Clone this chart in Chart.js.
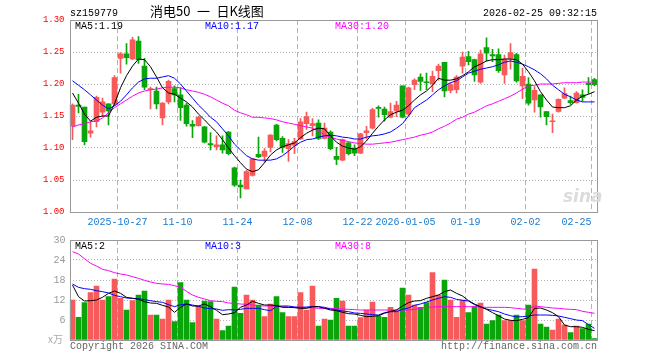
<!DOCTYPE html>
<html><head><meta charset="utf-8">
<script src="https://cdn.jsdelivr.net/npm/chart.js@4"></script>
<style>
html,body{margin:0;padding:0;background:#fff;}
#wrap{position:relative;width:660px;height:360px;overflow:hidden;font-family:"Liberation Mono",monospace;font-size:10px;}
.t{position:absolute;white-space:pre;line-height:12px;}
canvas{position:absolute;left:0;}
</style></head><body>
<div id="wrap">
<canvas id="pc" width="660" height="232" style="top:0"></canvas>
<canvas id="vc" width="660" height="130" style="top:230px"></canvas>
<div class="t" style="left:70px;top:8px;color:#000">sz159779</div>
<div class="t" id="title" style="left:150px;top:3px;color:#000;font-family:'Noto Sans CJK SC',sans-serif;font-size:13px;line-height:16px">消电50&#8194;一&#8194;日K线图</div>
<div class="t" style="right:63px;top:8px;color:#000">2026-02-25 09:32:15</div>
<div class="t" style="left:75px;top:21px;color:#000">MA5:1.19</div>
<div class="t" style="left:205px;top:21px;color:#0000ff">MA10:1.17</div>
<div class="t" style="left:335px;top:21px;color:#ff00ff">MA30:1.20</div>
<div class="t" style="left:75px;top:241px;color:#000">MA5:2</div>
<div class="t" style="left:205px;top:241px;color:#0000ff">MA10:3</div>
<div class="t" style="left:335px;top:241px;color:#ff00ff">MA30:8</div>
<div class="t" style="left:48px;top:333px;color:#aaa;font-family:'Noto Sans CJK SC',sans-serif;font-size:10px">x万</div>
<div class="t" style="left:70px;top:341px;color:#666">Copyright 2026 SINA.COM</div>
<div class="t" style="right:63px;top:341px;color:#666">http://finance.sina.com.cn</div>
<div class="t" style="left:563px;top:186px;color:#dcdcdc;font-family:'DejaVu Sans',sans-serif;font-size:17px;font-weight:bold;font-style:italic;line-height:20px">sina</div>
</div>
<script>
// ---------- data ----------
const dateLabels = ['2025-10-27','11-10','11-24','12-08','12-22','2026-01-05','01-19','02-02','02-25'];
const dateIdx = [8,18,28,38,48,56,66,76,87];
const priceTicks = [1.00,1.05,1.10,1.15,1.20,1.25,1.30];
const priceTickLabels = ['1.00','1.05','1.10','1.15','1.20','1.25','1.30'];
const volTicks = [0,6,12,18,24,30];
const volTickLabels = ['','6','12','18','24','30'];

const open = [1.134,1.167,1.164,1.123,1.141,1.156,1.169,1.169,1.240,1.247,
 1.239,1.267,1.228,1.191,1.189,1.147,1.172,1.193,1.183,1.167,
 1.137,1.135,1.133,1.107,1.102,1.105,1.125,1.069,1.042,1.036,
 1.057,1.090,1.087,1.101,1.136,1.115,1.099,1.104,1.114,1.138,
 1.135,1.139,1.115,1.125,1.087,1.081,1.108,1.099,1.092,1.124,
 1.131,1.163,1.161,1.148,1.158,1.197,1.153,1.199,1.211,1.203,
 1.200,1.221,1.234,1.190,1.191,1.228,1.243,1.238,1.203,1.257,
 1.246,1.246,1.214,1.240,1.246,1.197,1.200,1.175,1.183,1.157,
 1.141,1.157,1.178,1.174,1.171,1.183,1.201,1.207];
const close = [1.167,1.165,1.110,1.127,1.179,1.172,1.158,1.210,1.247,1.241,
 1.269,1.238,1.195,1.193,1.169,1.170,1.204,1.183,1.163,1.138,
 1.134,1.148,1.109,1.105,1.105,1.097,1.091,1.042,1.039,1.063,
 1.083,1.086,1.095,1.120,1.113,1.101,1.107,1.110,1.141,1.149,
 1.138,1.115,1.131,1.099,1.082,1.113,1.091,1.092,1.122,1.127,
 1.160,1.162,1.152,1.157,1.167,1.148,1.194,1.206,1.204,1.202,
 1.212,1.228,1.189,1.199,1.211,1.242,1.235,1.214,1.247,1.248,
 1.244,1.221,1.239,1.249,1.205,1.212,1.170,1.190,1.164,1.149,
 1.142,1.176,1.185,1.171,1.186,1.179,1.199,1.199];
const high = [1.169,1.184,1.164,1.141,1.181,1.178,1.169,1.213,1.249,1.263,
 1.273,1.274,1.240,1.195,1.195,1.171,1.206,1.197,1.194,1.170,
 1.143,1.150,1.134,1.124,1.119,1.119,1.126,1.070,1.050,1.065,
 1.084,1.117,1.099,1.121,1.137,1.118,1.113,1.115,1.146,1.156,
 1.146,1.144,1.139,1.127,1.101,1.114,1.109,1.105,1.123,1.134,
 1.162,1.166,1.164,1.170,1.173,1.197,1.195,1.208,1.216,1.217,
 1.220,1.231,1.234,1.202,1.213,1.250,1.251,1.239,1.253,1.272,
 1.254,1.255,1.245,1.263,1.248,1.225,1.210,1.196,1.183,1.157,
 1.153,1.177,1.194,1.181,1.188,1.191,1.210,1.209];
const low = [1.113,1.155,1.105,1.117,1.133,1.149,1.136,1.166,1.217,1.231,
 1.238,1.232,1.191,1.161,1.161,1.136,1.169,1.172,1.143,1.134,
 1.116,1.134,1.108,1.097,1.097,1.092,1.089,1.040,1.022,1.036,
 1.056,1.085,1.078,1.094,1.111,1.093,1.079,1.091,1.113,1.129,
 1.119,1.113,1.114,1.097,1.074,1.080,1.089,1.088,1.091,1.114,
 1.130,1.148,1.142,1.147,1.149,1.147,1.150,1.191,1.190,1.191,
 1.188,1.206,1.180,1.186,1.186,1.217,1.230,1.204,1.201,1.236,
 1.235,1.218,1.201,1.223,1.203,1.177,1.167,1.156,1.148,1.136,
 1.124,1.156,1.177,1.168,1.170,1.173,1.185,1.197];
const ma5 = [1.186,1.170,1.153,1.142,1.148,1.150,1.150,1.169,1.194,1.213,
 1.228,1.239,1.238,1.227,1.211,1.194,1.186,1.184,1.178,1.172,
 1.164,1.153,1.144,1.134,1.125,1.113,1.100,1.088,1.077,1.067,
 1.063,1.066,1.077,1.089,1.097,1.102,1.105,1.108,1.116,1.123,
 1.128,1.131,1.130,1.119,1.109,1.103,1.100,1.098,1.102,1.111,
 1.123,1.134,1.144,1.152,1.156,1.159,1.166,1.175,1.183,1.189,
 1.198,1.209,1.206,1.206,1.208,1.213,1.219,1.227,1.231,1.236,
 1.238,1.238,1.239,1.239,1.238,1.231,1.219,1.205,1.188,1.175,
 1.164,1.163,1.163,1.166,1.175,1.181,1.184,1.188];
const ma10 = [1.205,1.198,1.191,1.183,1.175,1.167,1.161,1.166,1.173,1.183,
 1.194,1.203,1.208,1.209,1.209,1.211,1.213,1.209,1.200,1.189,
 1.178,1.167,1.158,1.148,1.141,1.130,1.119,1.106,1.097,1.088,
 1.083,1.081,1.081,1.081,1.083,1.088,1.095,1.103,1.109,1.113,
 1.114,1.117,1.119,1.120,1.119,1.117,1.116,1.114,1.114,1.117,
 1.119,1.120,1.122,1.125,1.131,1.138,1.150,1.163,1.169,1.175,
 1.183,1.191,1.197,1.202,1.205,1.211,1.217,1.220,1.223,1.225,
 1.227,1.230,1.234,1.236,1.234,1.231,1.227,1.222,1.216,1.208,
 1.198,1.191,1.184,1.180,1.175,1.172,1.172,1.172];
const ma30 = [1.133,1.136,1.138,1.141,1.142,1.147,1.155,1.163,1.169,1.175,
 1.181,1.186,1.189,1.191,1.192,1.194,1.195,1.195,1.194,1.191,
 1.189,1.187,1.184,1.180,1.175,1.170,1.166,1.159,1.155,1.152,
 1.148,1.148,1.147,1.146,1.144,1.141,1.139,1.137,1.135,1.133,
 1.131,1.127,1.120,1.117,1.114,1.112,1.110,1.108,1.107,1.106,
 1.106,1.107,1.108,1.109,1.111,1.113,1.115,1.117,1.120,1.122,
 1.125,1.130,1.134,1.139,1.145,1.148,1.153,1.156,1.161,1.166,
 1.169,1.173,1.177,1.181,1.186,1.192,1.197,1.198,1.200,1.200,
 1.200,1.201,1.202,1.202,1.202,1.203,1.203,1.203];
const volume = [12.0,6.8,11.2,14.2,16.2,12.0,13.0,18.3,12.5,9.0,
 11.8,13.5,14.7,7.5,7.5,6.3,12.0,5.5,17.2,12.0,
 5.2,10.2,11.7,11.5,6.3,2.8,4.2,15.9,8.0,13.5,
 12.0,10.5,7.0,10.8,13.0,8.2,7.0,7.0,14.2,9.0,
 16.2,4.2,6.3,6.0,12.5,11.7,4.2,4.2,6.7,9.0,
 11.4,7.2,6.8,9.8,8.7,15.6,13.5,10.5,9.8,11.2,
 20.2,13.5,18.0,12.0,6.8,12.0,8.2,10.0,11.1,4.8,
 5.8,7.5,5.8,5.8,7.5,5.8,10.5,21.3,4.8,3.9,
 3.0,6.3,4.5,2.2,4.2,3.4,4.8,0.4];
const vma5 = [16.5,13.0,11.7,11.8,12.0,12.8,14.0,14.7,14.0,12.8,
 12.5,12.2,11.5,11.1,11.0,10.4,9.9,8.3,9.8,10.8,
 10.2,10.2,10.8,10.0,8.9,7.6,7.8,8.2,9.8,10.5,
 11.6,11.0,10.5,10.5,10.3,9.8,9.8,9.7,9.5,9.5,
 10.0,10.0,9.5,9.0,8.8,8.3,7.9,7.8,7.4,7.0,
 7.1,7.3,8.0,8.6,9.0,10.2,11.2,11.7,11.8,12.5,
 13.0,13.5,14.5,15.0,14.0,13.2,11.8,10.8,10.0,9.2,
 8.2,7.3,6.3,5.9,5.8,6.2,6.7,9.5,9.6,9.0,
 8.2,7.0,4.5,4.0,4.0,3.8,3.2,2.8];
const vma10 = [16.8,15.8,15.4,15.2,14.8,14.5,14.1,13.4,13.0,12.6,
 12.5,12.4,12.1,11.8,11.5,11.3,10.6,10.0,10.6,10.8,
 10.5,10.1,9.6,9.4,9.3,8.9,9.1,9.0,9.2,9.5,
 9.5,9.5,9.1,8.8,10.1,10.2,10.2,9.9,9.8,9.9,
 10.0,10.0,9.8,9.3,9.0,8.7,8.5,8.1,8.0,7.8,
 7.6,7.5,8.2,8.5,8.5,9.2,9.6,10.4,10.8,11.4,
 12.0,12.5,13.0,12.8,12.2,11.9,11.7,10.6,9.9,9.3,
 8.9,8.5,7.8,7.3,6.9,7.0,7.2,7.5,7.5,7.5,
 7.4,7.2,6.8,6.4,6.0,5.8,4.6,3.5];
const vma30 = [26.5,25.8,24.4,23.0,22.2,21.2,20.8,20.2,19.8,19.5,
 19.0,18.5,17.9,17.4,17.0,16.8,16.7,16.3,15.8,14.6,
 13.5,12.8,12.3,11.8,11.6,11.5,11.1,11.0,10.8,10.7,
 10.5,10.3,10.2,10.2,10.1,10.0,9.8,9.8,9.8,9.7,
 9.7,9.5,9.5,9.5,9.4,9.3,9.2,9.1,9.0,9.0,
 9.0,9.0,9.0,9.0,9.0,9.0,9.0,9.2,9.5,9.8,
 9.9,10.0,10.0,10.0,10.0,10.0,10.0,10.0,9.9,9.8,
 9.8,9.8,9.8,9.7,9.5,9.3,9.2,10.2,10.0,9.8,
 9.6,9.5,9.3,9.2,9.1,8.6,8.3,8.0];

// ---------- style ----------
const RED = '#f65a5a', GREEN = '#0aa50a';
const FONT = "'Liberation Mono', monospace";
const N = open.length;
const xs = open.map((_, i) => i + 0.5);
const candleColor = ctx => (close[ctx.dataIndex] >= open[ctx.dataIndex] ? RED : GREEN);
const pts = arr => arr.map((v, i) => ({x: xs[i], y: v}));
const lineDs = (arr, color) => ({type:'line', data: pts(arr), borderColor: color, borderWidth: 1,
  pointRadius: 0, tension: 0, order: 0});

const frame = {
  id: 'frame',
  afterDatasetsDraw(c) {
    const a = c.chartArea, ctx = c.ctx;
    ctx.save();
    ctx.strokeStyle = '#999';
    ctx.lineWidth = 1;
    const l = Math.round(a.left) + 0.5, t = Math.round(a.top) + 0.5;
    const r = Math.round(a.right) - 0.5, b = Math.round(a.bottom) + 0.5;
    ctx.strokeRect(l, t, r - l, b - t);
    ctx.restore();
  }
};

const xScale = (showLabels) => ({
  type: 'linear', min: 0, max: N, offset: false,
  afterBuildTicks: s => { s.ticks = dateIdx.map(v => ({value: v})); },
  afterFit: s => { s.height = 20; },
  grid: {color: '#b4b4b4', lineWidth: 1, drawTicks: false, offset: false},
  border: {display: false, dash: [5, 3]},
  ticks: {display: showLabels, autoSkip: false, maxRotation: 0, minRotation: 0, padding: 4,
    color: '#1a7ad0', font: {family: FONT, size: 10},
    callback: (v, i) => { const l = dateLabels[i]; return i === dateLabels.length - 1 ? l + ' '.repeat(l.length) : l; }}
});

Chart.defaults.font.family = FONT;

new Chart(document.getElementById('pc'), {
  type: 'bar',
  data: { datasets: [
    lineDs(ma5, '#000000'),
    lineDs(ma10, '#0000ff'),
    lineDs(ma30, '#ff00ff'),
    {type: 'bar', data: open.map((v, i) => ({x: xs[i], y: [v, close[i]]})), backgroundColor: candleColor,
      barThickness: 5, grouped: false, minBarLength: 1, order: 1},
    {type: 'bar', data: low.map((v, i) => ({x: xs[i], y: [v, high[i]]})), backgroundColor: candleColor,
      barThickness: 1, grouped: false, order: 2}
  ]},
  options: {
    responsive: false, animation: false, devicePixelRatio: 1,
    layout: {padding: {top: 20, right: 62.5, left: 0, bottom: 0}},
    plugins: {legend: {display: false}, tooltip: {enabled: false}},
    scales: {
      x: xScale(true),
      y: {
        min: 1.0, max: 1.3,
        afterBuildTicks: s => { s.ticks = priceTicks.map(v => ({value: v})); },
        afterFit: s => { s.width = 69.5; },
        grid: {color: '#b4b4b4', lineWidth: 1, drawTicks: false},
        border: {display: false, dash: [1, 2]},
        ticks: {padding: 5, color: '#ff0000', font: {family: FONT, size: 9},
          callback: (v, i) => priceTickLabels[i]}
      }
    }
  },
  plugins: [frame]
});

new Chart(document.getElementById('vc'), {
  type: 'bar',
  data: { datasets: [
    lineDs(vma5, '#000000'),
    lineDs(vma10, '#0000ff'),
    lineDs(vma30, '#ff00ff'),
    {type: 'bar', data: volume.map((v, i) => ({x: xs[i], y: v})), backgroundColor: candleColor,
      barThickness: 5, grouped: false, order: 1}
  ]},
  options: {
    responsive: false, animation: false, devicePixelRatio: 1,
    layout: {padding: {top: 10, right: 62.5, left: 0, bottom: 0}},
    plugins: {legend: {display: false}, tooltip: {enabled: false}},
    scales: {
      x: xScale(false),
      y: {
        min: 0, max: 30,
        afterBuildTicks: s => { s.ticks = volTicks.map(v => ({value: v})); },
        afterFit: s => { s.width = 69.5; },
        grid: {color: '#b4b4b4', lineWidth: 1, drawTicks: false},
        border: {display: false, dash: [1, 2]},
        ticks: {padding: 4, color: '#999', font: {family: FONT, size: 10},
          callback: (v, i) => volTickLabels[i]}
      }
    }
  },
  plugins: [frame]
});
</script>
</body></html>
